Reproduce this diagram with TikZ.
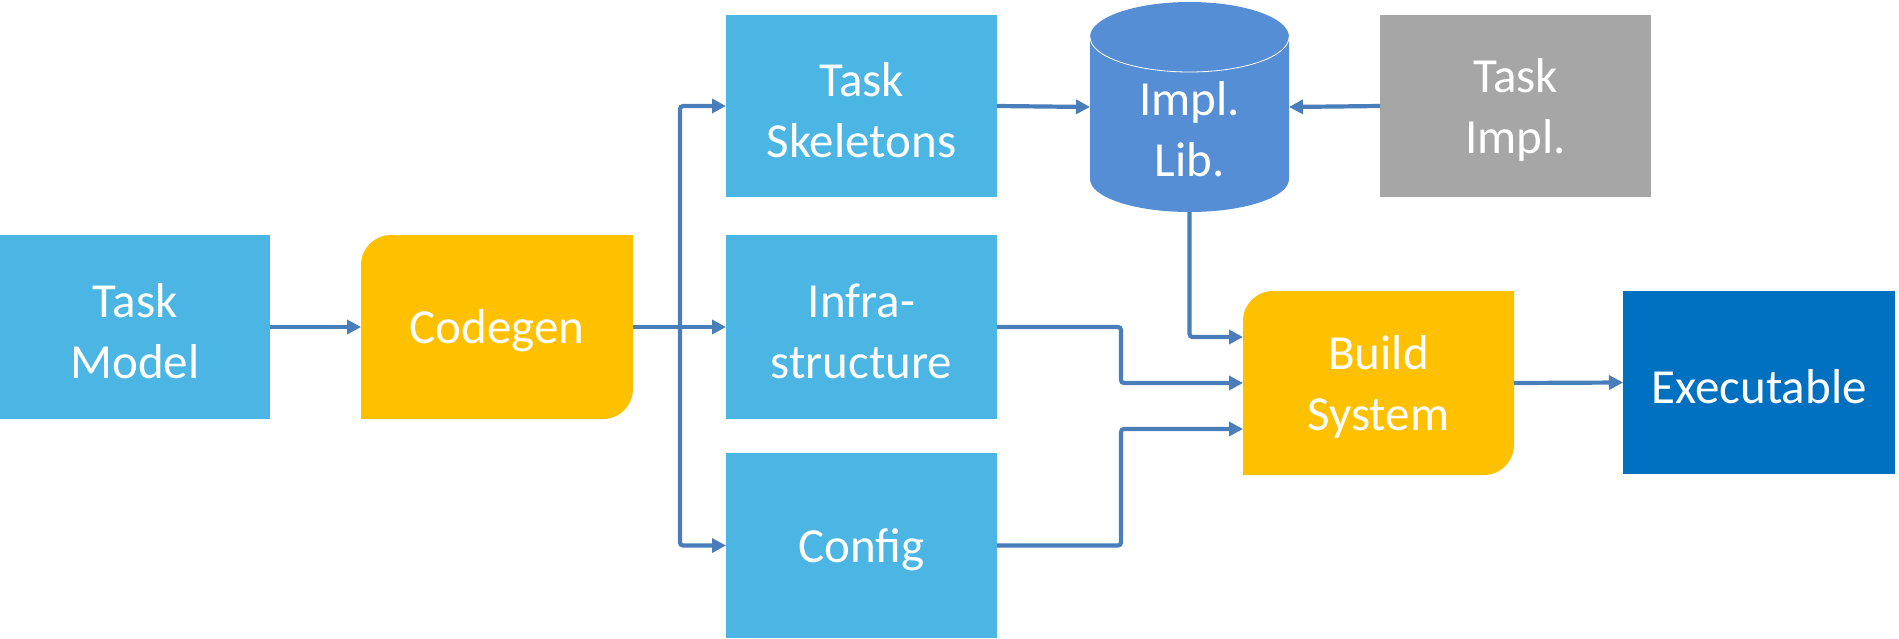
\documentclass[tikz,border=0pt]{standalone}
\usepackage{fontspec}
\setmainfont{Carlito}
\usetikzlibrary{arrows.meta,backgrounds}
\definecolor{lblue}{HTML}{4BB5E3}
\definecolor{gold}{HTML}{FFC000}
\definecolor{cylc}{HTML}{558ED5}
\definecolor{greyc}{HTML}{A6A6A6}
\definecolor{dblue}{HTML}{0070C0}
\definecolor{arrowc}{HTML}{4A7EBB}
\begin{document}
\begin{tikzpicture}[x=1pt,y=-1pt,
  lbl/.style={text=white, align=center, inner sep=0pt, outer sep=0pt,
    yshift=-4pt, font=\fontsize{49}{61}\selectfont},
  blk/.style={inner sep=0pt, outer sep=0pt, minimum width=271pt, minimum height=184pt},
  arr/.style={draw=arrowc, line width=4.2pt, rounded corners=3pt,
    -{Triangle[length=14pt,width=14pt]}}]
\useasboundingbox (0,0) rectangle (1899,638);
% nodes
\node[blk, fill=lblue, minimum width=270pt, label={[lbl]center:{Task\\Model}}] (tm) at (135,327) {};
\node[blk, minimum width=272pt, label={[lbl]center:Codegen}] (cg) at (497,327) {};
\node[blk, fill=lblue, minimum height=182pt, label={[lbl]center:{Task\\Skeletons}}] (sk) at (861.5,106) {};
\node[blk, fill=lblue, label={[lbl]center:{Infra-\\structure}}] (inf) at (861.5,327) {};
\node[blk, fill=lblue, minimum height=185pt, label={[lbl]center:Config}] (cf) at (861.5,545.5) {};
\node[blk, minimum width=199pt, minimum height=210pt] (lib) at (1189.5,107) {};
\node[lbl] (libt) at (1189.5,125) {Impl.\\Lib.};
\node[blk, fill=greyc, minimum height=182pt, label={[lbl]center:{Task\\Impl.}}] (ti) at (1515.5,106) {};
\node[blk, label={[lbl]center:{Build\\System}}] (bs) at (1378.5,383) {};
\node[blk, fill=dblue, minimum width=272pt, minimum height=183pt, label={[lbl]center:Executable}] (ex) at (1759,382.5) {};
\begin{scope}[on background layer]
  \foreach \n in {cg,bs}{
    \fill[gold] (\n.south west) -- ([yshift=-30pt]\n.north west)
      arc[start angle=180,end angle=90,radius=30pt]
      -- (\n.north east) -- ([yshift=30pt]\n.south east)
      arc[start angle=0,end angle=-90,radius=30pt] -- cycle;
  }
  % cylinder
  \fill[cylc] (1090,37) -- (1090,179)
    arc[start angle=180,end angle=360,x radius=99.5pt,y radius=33pt]
    -- (1289,37)
    arc[start angle=0,end angle=180,x radius=99.5pt,y radius=35pt] -- cycle;
  \draw[white, line width=0.8pt] (1090,37)
    arc[start angle=180,end angle=360,x radius=99.5pt,y radius=35pt];
\end{scope}
% connectors
\coordinate (bus) at (680,327);
\draw[arr] (tm.east) -- (cg.west);
\draw[arr] (cg.east) -- (inf.west);
\draw[arr] (bus) |- (sk.west);
\draw[arr] (bus) |- (cf.west);
\draw[arr] (sk.east) -- (lib.west);
\draw[arr] (ti.west) -- (lib.east);
\draw[arr] (lib.south) |- ([yshift=46pt]bs.west);
\draw[arr] (inf.east) -- ++(124,0) |- (bs.west);
\draw[arr] (cf.east) -- ++(124,0) |- ([yshift=-46pt]bs.west);
\draw[arr] (bs.east) -- (ex.west);
\end{tikzpicture}
\end{document}
